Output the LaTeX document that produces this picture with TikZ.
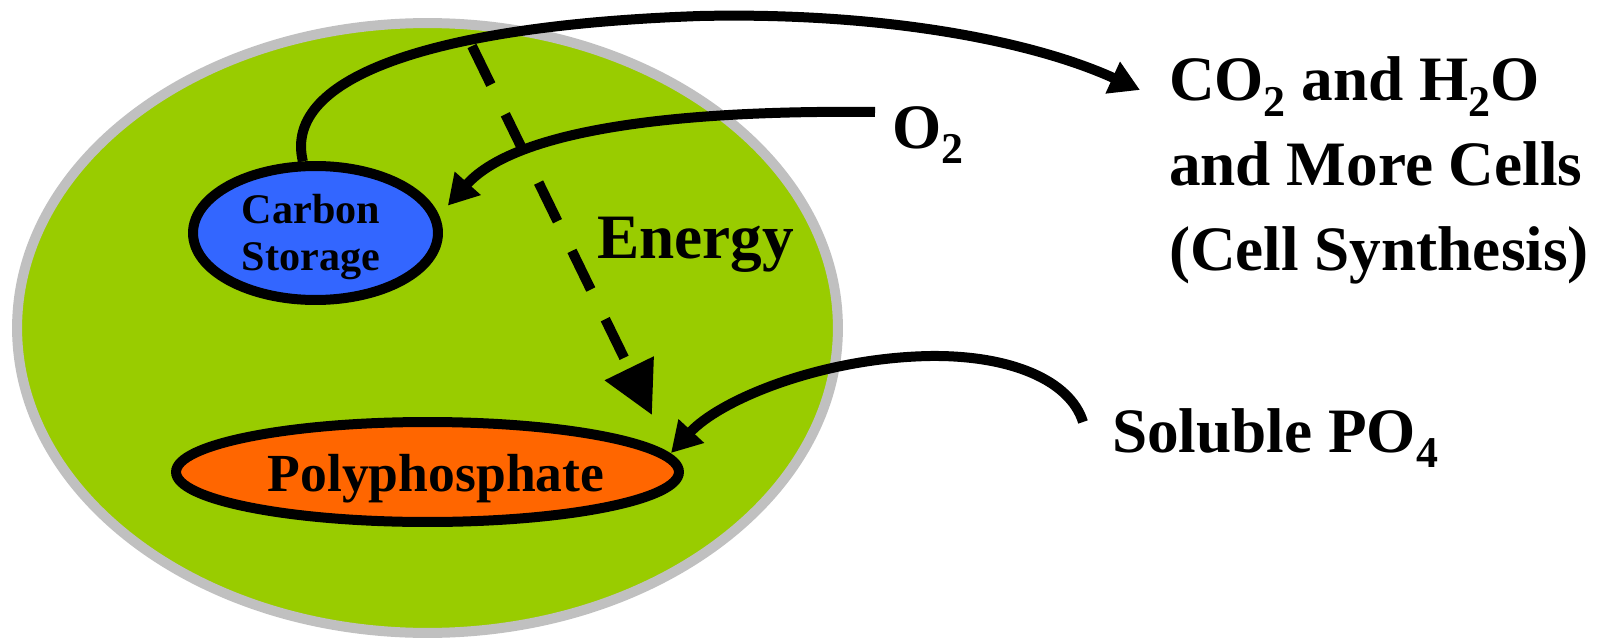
\documentclass[tikz,border=0pt]{standalone}
\usepackage{fontspec}
\setmainfont{Liberation Serif}
\usetikzlibrary{arrows.meta,shapes.geometric}
\definecolor{cellgreen}{HTML}{99CC00}
\definecolor{cellgray}{HTML}{C0C0C0}
\definecolor{cblue}{HTML}{3366FF}
\definecolor{porange}{HTML}{FF6600}
\newcommand\sbs[1]{\raisebox{-0.25em}{\fontsize{25}{25}\selectfont #1}}
\begin{document}
\begin{tikzpicture}[x=0.02cm, y=-0.02cm,
  lbl/.style={font=\fontsize{36}{48.4}\selectfont\bfseries, inner sep=0pt, outer sep=0pt},
  flow/.style={line width=0.2cm, -{Triangle[length=0.6cm,width=0.66cm]}},
  blob/.style={ellipse, draw=black, line width=0.2cm, inner sep=0pt}]
\useasboundingbox (0,0) rectangle (1600,639);
% cell
\node[ellipse, draw=cellgray, fill=cellgreen, line width=0.2cm, inner sep=0pt,
      minimum width=16.42cm, minimum height=12.2cm] (cell) at (427.5,328) {};
% storages
\node[blob, fill=cblue, minimum width=4.9cm, minimum height=2.68cm] (carb) at (315.5,233) {};
\node[blob, fill=porange, minimum width=10.06cm, minimum height=2cm] (poly) at (427.5,472) {};
\node[font=\fontsize{24}{26.7}\selectfont\bfseries, inner sep=0pt, align=center, anchor=north] (carbtxt) at (311,194) {Carbon\\Storage};
\node[font=\fontsize{30.5}{36}\selectfont\bfseries, inner sep=0pt, anchor=base] (polytxt) at (436,491) {Polyphosphate};
% labels
\node[lbl, anchor=base west] (energy) at (597,258) {Energy};
\node[lbl, anchor=base west] (o2) at (892,148) {O\sbs{2}};
\node[lbl, anchor=base west] (sol) at (1112,452) {Soluble PO\sbs{4}};
\node[lbl, anchor=north west, align=left] (cells) at (1169,56.5)
  {CO\sbs{2} and H\sbs{2}O\\and More Cells\\(Cell Synthesis)};
% connectors
\coordinate (dstart) at (472,46);
\draw[line width=0.2cm, dash pattern=on 0.86cm off 0.66cm,
      -{Triangle[length=1.04cm,width=1.04cm]}]
  (dstart) -- ([shift={(224.5,-57)}]poly.center);
\draw[flow] (carb.100) .. controls (282,75) and (440,25) .. (700,16)
  .. controls (880,12) and (1030,40) .. ([shift={(-29,33.5)}]cells.north west);
\draw[flow] ([shift={(-17,-36)}]o2.base west) .. controls (700,110) and (520,125)
  .. ([shift={(13,-2)}]carb.12);
\draw[flow] ([shift={(-29,-30)}]sol.base west) .. controls (1070,380) and (1010,355) .. (930,356)
  .. controls (820,358) and (720,400) .. ([shift={(243.5,-19)}]poly.center);
\end{tikzpicture}
\end{document}
